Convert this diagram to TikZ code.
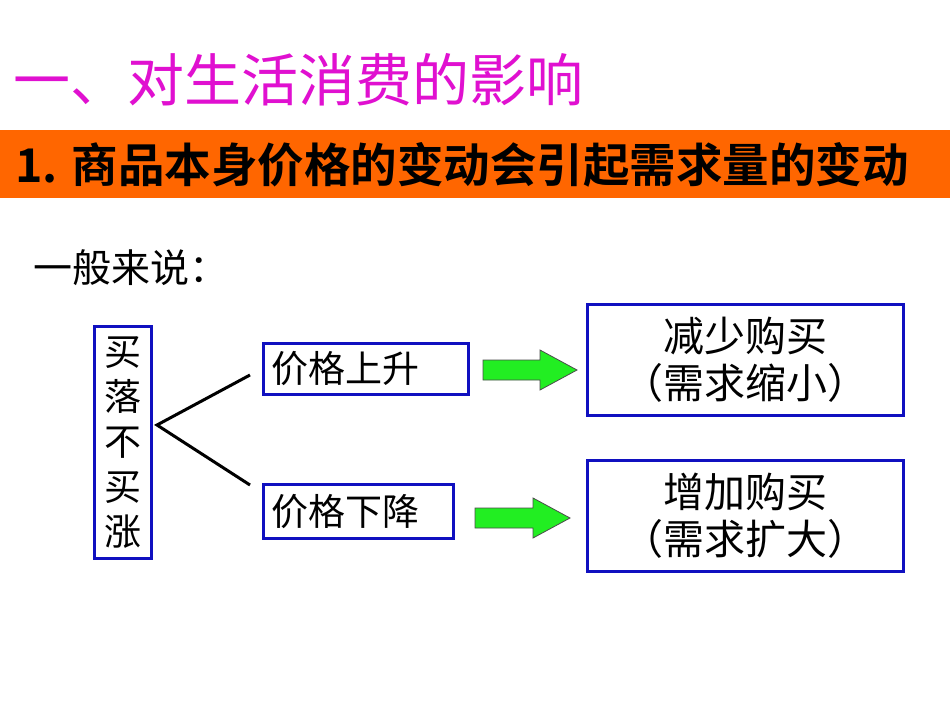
\documentclass[tikz,border=0pt]{standalone}
\usepackage{fontspec}
\setmainfont{Noto Sans CJK SC}
\newfontfamily\cjkb{Noto Sans CJK SC Bold}
\definecolor{boxblue}{HTML}{1010C0}
\definecolor{barorange}{HTML}{FF6600}
\definecolor{arrgreen}{HTML}{22EE22}
\definecolor{mag}{HTML}{E010D0}
\begin{document}
\begin{tikzpicture}[x=1pt,y=-1pt,
  bbox/.style={draw=boxblue,line width=2.5pt,inner sep=0pt},
  txt/.style={font=\fontsize{37}{42}\selectfont,inner sep=0pt},
  garrow/.style={draw=black!70,line width=0.8pt,fill=arrgreen}]
\useasboundingbox (0,0) rectangle (950,713);
\fill[white] (0,0) rectangle (950,713);
\node[anchor=west,text=mag,font=\fontsize{57}{64}\selectfont,inner sep=0pt] (title) at (13,80) {一、对生活消费的影响};
\node[fill=barorange,minimum width=950pt,minimum height=68pt,inner sep=0pt,anchor=north west] (bar) at (0,130) {};
\node[anchor=west,font=\cjkb\fontsize{46.5}{52}\selectfont,inner sep=0pt] (bartext) at (15,165) {1. 商品本身价格的变动会引起需求量的变动};
\node[anchor=west,txt,font=\fontsize{39}{44}\selectfont] (gen) at (33,268) {一般来说：};
\node[bbox,minimum width=57pt,minimum height=232pt,anchor=north west] (vbox) at (93,325) {};
\node[txt,align=center,font=\fontsize{37}{45}\selectfont] (vtext) at (vbox.center) {买\\落\\不\\买\\涨};
\coordinate (fork) at (157,425);
\coordinate (up) at (250,375);
\coordinate (down) at (250,485);
\draw[line width=3pt] (up) -- (fork) -- (down);
\node[bbox,minimum width=205pt,minimum height=51pt,anchor=north west] (rise) at (262,342) {};
\node[txt,anchor=west] at ([xshift=9pt]rise.west) {价格上升};
\node[bbox,minimum width=190pt,minimum height=54pt,anchor=north west] (fall) at (262,483) {};
\node[txt,anchor=west] at ([xshift=9pt]fall.west) {价格下降};
\node[bbox,minimum width=316pt,minimum height=111pt,anchor=north west] (less) at (586,303) {};
\node[txt,align=center,font=\fontsize{41}{47}\selectfont] at (less.center) {减少购买\\（需求缩小）};
\node[bbox,minimum width=316pt,minimum height=111pt,anchor=north west] (more) at (586,459) {};
\node[txt,align=center,font=\fontsize{41}{47}\selectfont] at (more.center) {增加购买\\（需求扩大）};
\draw[garrow] (483,360) -- (540,360) -- (540,350) -- (577,370) -- (540,390) -- (540,380) -- (483,380) -- cycle;
\draw[garrow] (475,508) -- (533,508) -- (533,498) -- (570,518) -- (533,538) -- (533,528) -- (475,528) -- cycle;
\end{tikzpicture}
\end{document}
